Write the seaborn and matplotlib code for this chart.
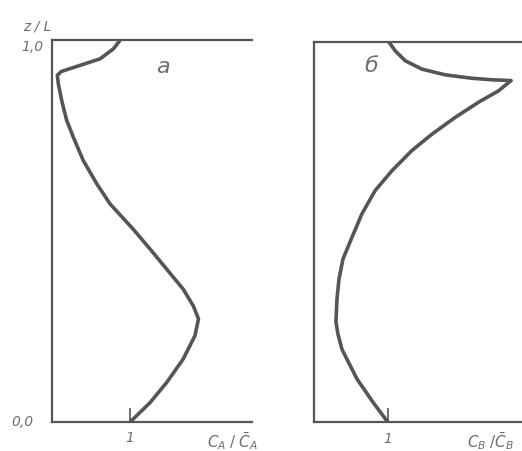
import matplotlib
matplotlib.use("Agg")
import matplotlib.pyplot as plt
import seaborn as sns
import pandas as pd

sns.set_theme(style="white")
plt.rcParams["font.family"] = ["DejaVu Sans"]
plt.rcParams["mathtext.fontset"] = "dejavusans"

INK = "#555555"
TEXT = "#6e6e6e"

# Profile a: relative concentration of A along the reactor height
z_a = [0.0, 0.051, 0.104, 0.165, 0.226, 0.27, 0.304, 0.348, 0.40, 0.453,
       0.505, 0.571, 0.624, 0.685, 0.746, 0.79, 0.842, 0.886, 0.908,
       0.918, 0.932, 0.951, 0.977, 1.0]
c_a = [1.0, 1.256, 1.47, 1.68, 1.83, 1.876, 1.81, 1.68, 1.47, 1.256,
       1.04, 0.744, 0.573, 0.40, 0.273, 0.188, 0.124, 0.081, 0.068,
       0.12, 0.33, 0.615, 0.786, 0.872]

# Profile б: relative concentration of B along the reactor height
z_b = [0.0, 0.053, 0.114, 0.192, 0.232, 0.264, 0.324, 0.376, 0.429, 0.486,
       0.548, 0.609, 0.661, 0.714, 0.757, 0.801, 0.841, 0.871, 0.898, 0.900,
       0.904, 0.913, 0.928, 0.950, 0.976, 1.0]
c_b = [1.0, 0.797, 0.581, 0.378, 0.324, 0.297, 0.311, 0.338, 0.392, 0.514,
       0.649, 0.828, 1.054, 1.324, 1.595, 1.909, 2.226, 2.496, 2.666, 2.405,
       2.135, 1.774, 1.459, 1.234, 1.099, 1.009]

x_ticks = [1.0]
x_tick_labels = ["1"]

df_a = pd.DataFrame({"c": c_a, "z": z_a})
df_b = pd.DataFrame({"c": c_b, "z": z_b})

fig = plt.figure(figsize=(5.22, 4.52), dpi=100)
ax_a = fig.add_axes([0.0996, 0.064, 0.383, 0.845])
ax_b = fig.add_axes([0.6015, 0.0635, 0.398, 0.842])

panels = [
    (ax_a, df_a, 2.56, r"$C_A\;/\;\bar{C}_A$", 0.775, "а", (1.42, 0.932)),
    (ax_b, df_b, 2.81, r"$C_B\;/\bar{C}_B$", 0.735, "б", (0.78, 0.938)),
]

for ax, df, xmax, xlab, xlab_pos, letter, lpos in panels:
    sns.lineplot(data=df, x="c", y="z", sort=False, estimator=None,
                 color=INK, linewidth=2.6, ax=ax)
    ax.set_xlim(0, xmax)
    ax.set_ylim(0, 1.0)
    for side in ("left", "top", "bottom"):
        ax.spines[side].set_visible(True)
        ax.spines[side].set_color(INK)
        ax.spines[side].set_linewidth(1.6)
    ax.spines["right"].set_visible(False)
    ax.set_xticks(x_ticks)
    ax.set_xticklabels(x_tick_labels, fontstyle="italic", color=TEXT, fontsize=10)
    ax.tick_params(axis="x", direction="in", length=10, width=1.2, colors=INK,
                   labelcolor=TEXT, pad=6, bottom=True)
    ax.set_yticks([])
    ax.set_xlabel("")
    ax.set_ylabel("")
    ax.text(xlab_pos, -0.047, xlab, transform=ax.transAxes, ha="left",
            va="center", fontsize=11, color=TEXT, style="italic")
    ax.text(lpos[0], lpos[1], letter, ha="center", va="center",
            fontsize=16, color=TEXT, style="italic")

# Height axis annotations on the left panel
ax_a.text(-0.075, 1.039, "z / L", transform=ax_a.transAxes, ha="center",
          va="center", fontsize=10, color=TEXT, style="italic")
ax_a.text(-0.10, 0.984, "1,0", transform=ax_a.transAxes, ha="center",
          va="center", fontsize=10, color=TEXT, style="italic")
ax_a.text(-0.15, 0.003, "0,0", transform=ax_a.transAxes, ha="center",
          va="center", fontsize=10, color=TEXT, style="italic")

fig.savefig("out.png", dpi=100, facecolor="white")
